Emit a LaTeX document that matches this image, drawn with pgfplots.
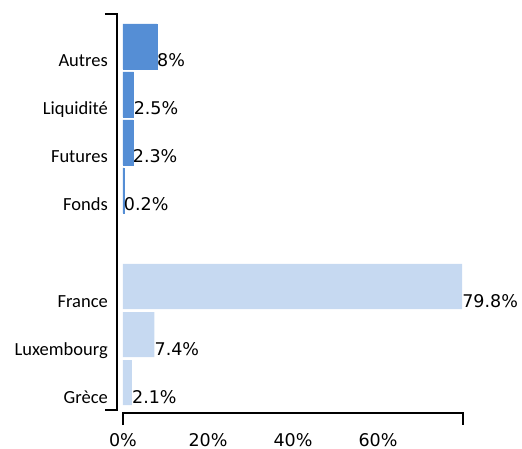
\documentclass[border=0pt]{standalone}
\usepackage{pgfplots}
\pgfplotsset{compat=1.18}
\usepackage{fontspec}
\setmainfont{Carlito}
\newfontfamily\dejavu{DejaVu Sans}
\definecolor{darkbar}{RGB}{85,142,213}
\definecolor{lightbar}{RGB}{198,217,241}
\begin{document}
\begin{tikzpicture}
\path[use as bounding box] (-117pt,-35pt) rectangle (405pt,413pt);
\begin{axis}[
  at={(0,0)}, anchor=south west,
  scale only axis, width=346pt, height=399pt,
  xmin=-1.4118, xmax=80, ymin=-0.6354, ymax=7.677,
  clip=false,
  axis line style={draw=none},
  major tick length=0pt, tick style={draw=none},
  xtick={0,20,40,60}, xticklabels={0\%,20\%,40\%,60\%},
  xticklabel style={font=\dejavu\fontsize{17.5}{20}\selectfont, anchor=base, inner sep=0pt, yshift=-33pt},
  ytick={0,1,2,4,5,6,7},
  yticklabels={Grèce,Luxembourg,France,Fonds,Futures,Liquidité,Autres},
  yticklabel style={font=\fontsize{18.5}{22}\selectfont, anchor=base east, inner sep=0pt, xshift=-9pt, yshift=-20.5pt},
  xbar, bar width=0.9375, bar shift=0pt,
  point meta=explicit symbolic,
  nodes near coords={\pgfplotspointmeta\%},
  nodes near coords style={font=\dejavu\fontsize{17.5}{20}\selectfont, anchor=base west, inner sep=0pt, yshift=-20.5pt, black},
]
\addplot[fill=lightbar, draw=none] table[x=x, y=y, meta=lab] {
x y lab
2.1 0 2.1
7.4 1 7.4
79.8 2 79.8
};
\addplot[fill=darkbar, draw=darkbar, line width=0.3pt] table[x=x, y=y, meta=lab] {
x y lab
0.2 4 0.2
2.3 5 2.3
2.5 6 2.5
8 7 8
};
\draw[black, line width=1.5pt] ([yshift=-12pt]axis cs:0,-0.6354) -- (axis cs:0,-0.6354) -- (axis cs:80,-0.6354) -- ([yshift=-12pt]axis cs:80,-0.6354);
\draw[black, line width=1.5pt] ([xshift=-12pt]axis cs:-1.4118,7.677) -- (axis cs:-1.4118,7.677) -- (axis cs:-1.4118,-0.573) -- ([xshift=-12pt]axis cs:-1.4118,-0.573);
\end{axis}
\end{tikzpicture}
\end{document}
